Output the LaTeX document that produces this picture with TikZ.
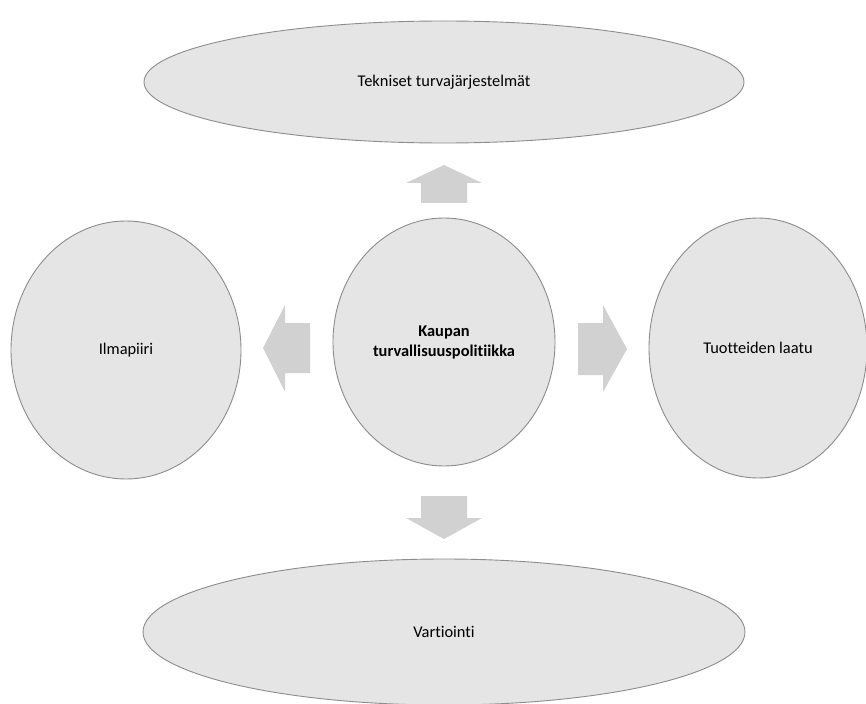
\documentclass[tikz,border=0pt]{standalone}
\usepackage{fontspec}
\setmainfont{Carlito}[Ligatures=NoCommon]
\usetikzlibrary{shapes.geometric}

\begin{document}
\begin{tikzpicture}[x=1pt, y=-1pt,
	topic/.style={ellipse, draw=black!45, line width=0.9pt, fill=black!10, inner sep=0pt, font=\fontsize{16.4}{20}\selectfont, align=center},
	blockarrow/.style={fill=black!18}]

	\useasboundingbox (0,0) rectangle (866,703);

	\node[topic, minimum width=600pt, minimum height=122pt] (T) at (444,82)	{Tekniset turvajärjestelmät};
	\node[topic, minimum width=222pt, minimum height=248pt] (K) at (444,342)	{\textbf{Kaupan}\\\textbf{turvallisuuspolitiikka}};
	\node[topic, minimum width=230pt, minimum height=258pt] (I) at (126,350)	{Ilmapiiri};
	\node[topic, minimum width=218pt, minimum height=260pt] (L) at (758,348)	{Tuotteiden laatu};
	\node[topic, minimum width=602pt, minimum height=146pt] (V) at (444,632)	{Vartiointi};

	% block arrows
	\fill[blockarrow] (421,203) -- (421,183) -- (406,183) -- (444,165) -- (482,183) -- (467,183) -- (467,203) -- cycle;
	\fill[blockarrow] (310,323) -- (285,323) -- (285,305) -- (263,348) -- (285,392) -- (285,373) -- (310,373) -- cycle;
	\fill[blockarrow] (578,323) -- (603,323) -- (603,305) -- (627,349) -- (603,392) -- (603,375) -- (578,375) -- cycle;
	\fill[blockarrow] (421,496) -- (421,518) -- (406,518) -- (444,539) -- (482,518) -- (467,518) -- (467,496) -- cycle;
\end{tikzpicture}
\end{document}
